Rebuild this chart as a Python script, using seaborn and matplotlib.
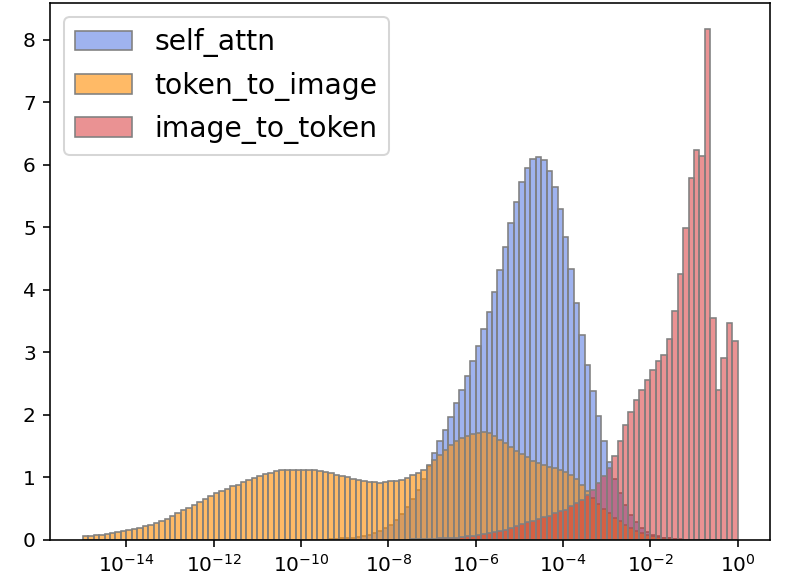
import numpy as np
import pandas as pd
import matplotlib
matplotlib.use("Agg")
import matplotlib.pyplot as plt
import seaborn as sns

# Bins: 8 per decade from 1e-15 to 1e0 (log10 units)
bin_lo = -15
bin_hi = 0
bins_per_decade = 8

# x tick positions as powers of ten
x_tick_exponents = [-14, -12, -10, -8, -6, -4, -2, 0]

# Bar heights, one per bin, starting at bin index *_start
token_to_image_start = 0
token_to_image = [
    0.05, 0.06, 0.07, 0.08, 0.09, 0.10, 0.12, 0.13, 0.15, 0.17,
    0.19, 0.22, 0.24, 0.27, 0.30, 0.33, 0.37, 0.42, 0.47, 0.51,
    0.55, 0.60, 0.65, 0.69, 0.74, 0.78, 0.81, 0.85, 0.88, 0.92,
    0.95, 0.98, 1.02, 1.05, 1.07, 1.10, 1.11, 1.12, 1.12, 1.12,
    1.12, 1.12, 1.11, 1.10, 1.08, 1.06, 1.04, 1.02, 1.00, 0.97,
    0.95, 0.93, 0.92, 0.92, 0.91, 0.92, 0.93, 0.94, 0.96, 0.99,
    1.03, 1.06, 1.11, 1.19, 1.28, 1.35, 1.43, 1.51, 1.57, 1.62,
    1.66, 1.69, 1.71, 1.72, 1.70, 1.66, 1.60, 1.54, 1.48, 1.42,
    1.37, 1.32, 1.26, 1.22, 1.19, 1.16, 1.14, 1.11, 1.08, 1.04,
    0.97, 0.87, 0.77, 0.66, 0.57, 0.49, 0.42, 0.35, 0.29, 0.23,
    0.18, 0.14, 0.10, 0.07, 0.05, 0.04, 0.03, 0.02, 0.01, 0.01,
]

self_attn_start = 45
self_attn = [
    0.01, 0.01, 0.02, 0.02, 0.03, 0.04, 0.05, 0.07, 0.10, 0.14,
    0.18, 0.24, 0.32, 0.41, 0.52, 0.65, 0.80, 0.97, 1.17, 1.38,
    1.57, 1.76, 1.96, 2.18, 2.39, 2.62, 2.86, 3.10, 3.37, 3.65,
    3.97, 4.31, 4.69, 5.06, 5.41, 5.72, 5.95, 6.09, 6.12, 6.08,
    5.90, 5.64, 5.29, 4.84, 4.33, 3.78, 3.27, 2.80, 2.38, 1.97,
    1.58, 1.24, 0.97, 0.74, 0.55, 0.40, 0.28, 0.19, 0.12, 0.08,
    0.05, 0.03, 0.02, 0.01,
]

image_to_token_start = 60
image_to_token = [
    0.005, 0.01, 0.01, 0.01, 0.015, 0.02, 0.02, 0.03, 0.03, 0.04,
    0.05, 0.06, 0.07, 0.09, 0.11, 0.12, 0.14, 0.16, 0.19, 0.22,
    0.25, 0.28, 0.30, 0.33, 0.36, 0.38, 0.42, 0.45, 0.48, 0.53,
    0.59, 0.64, 0.71, 0.79, 0.90, 1.02, 1.15, 1.34, 1.57, 1.83,
    2.04, 2.24, 2.39, 2.56, 2.71, 2.86, 2.96, 3.21, 3.66, 4.25,
    4.99, 5.79, 6.23, 6.14, 8.18, 3.54, 2.40, 2.90, 3.47, 3.18,
]

series = [
    ("self_attn", self_attn_start, self_attn, "royalblue", 0.5),
    ("token_to_image", token_to_image_start, token_to_image, "darkorange", 0.6),
    ("image_to_token", image_to_token_start, image_to_token, "tab:red", 0.5),
]

plt.rcParams["font.family"] = ["DejaVu Sans"]

fig, ax = plt.subplots(figsize=(797 / 145, 580 / 145), dpi=145)
fig.subplots_adjust(left=0.0627, right=0.9666, bottom=0.0698, top=0.9947)

edges = np.linspace(bin_lo, bin_hi, (bin_hi - bin_lo) * bins_per_decade + 1)

for name, start, vals, color, alpha in series:
    e = edges[start:start + len(vals) + 1]
    df = pd.DataFrame({"value": 10 ** ((e[:-1] + e[1:]) / 2), "height": vals})
    # bins passed as a plain list (log10 units, since log_scale=True)
    sns.histplot(data=df, x="value", weights="height", bins=list(e),
                 log_scale=True, color=color, alpha=alpha,
                 edgecolor="grey", linewidth=0.8, label=name, ax=ax)

ax.set_xticks([10.0 ** p for p in x_tick_exponents])
ax.set_xlabel("")
ax.set_ylabel("")
ax.legend(loc="upper left", fontsize=14)

fig.savefig("out.png", dpi=145)
